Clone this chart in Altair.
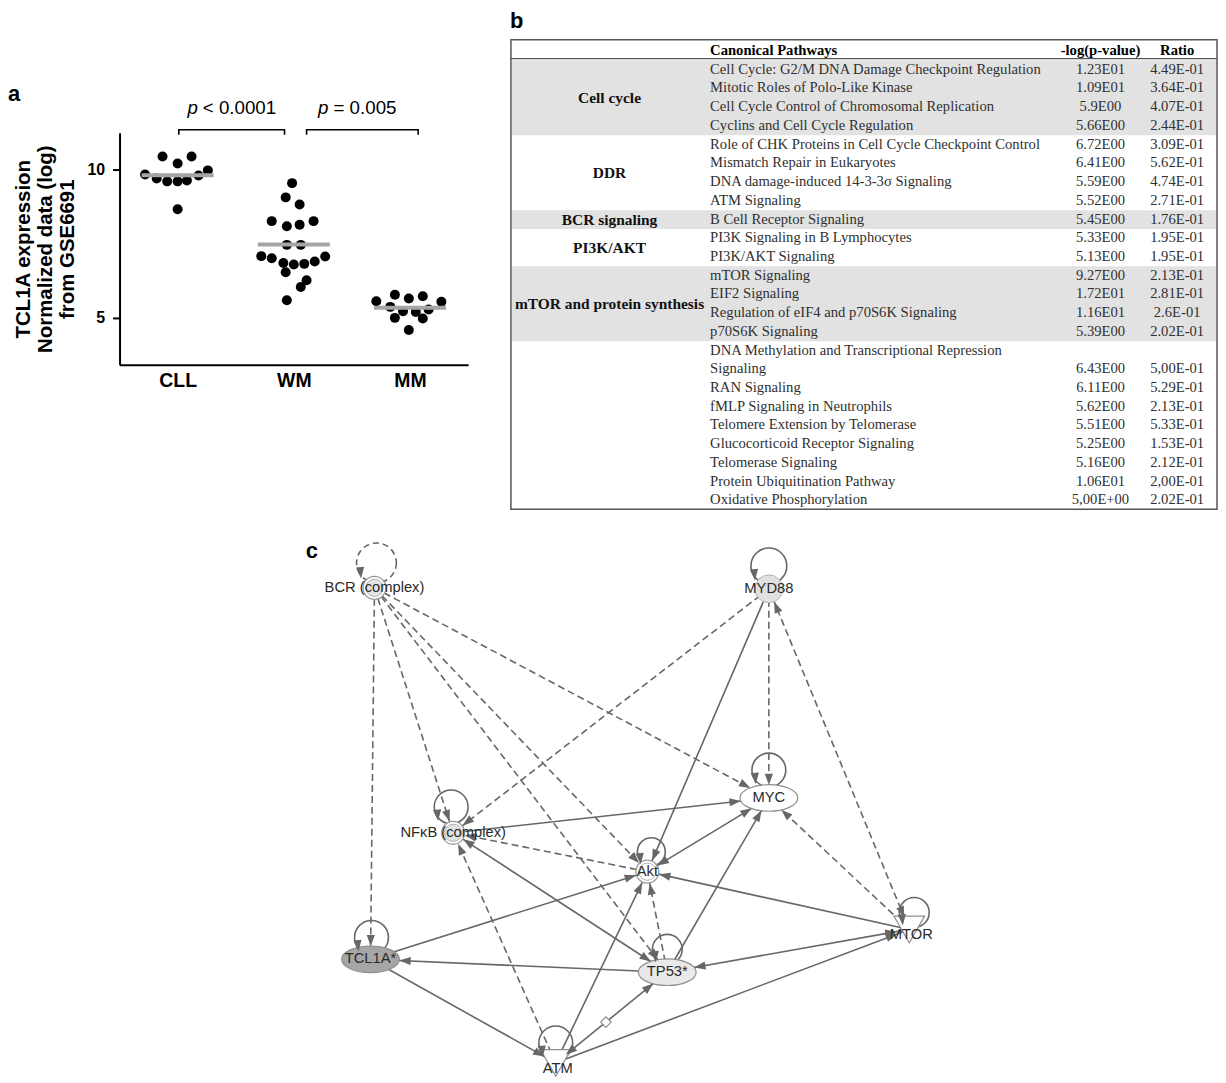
import json
import math
import altair as alt
import pandas as pd

SANS = "Liberation Sans"
SERIF = "Liberation Serif"

# ======================= DATA =======================
# ---- Panel a: TCL1A expression (normalized log data, GSE6691) ----
cats = ["CLL", "WM", "MM"]
cll_vals = [10.44, 10.44, 10.20, 9.83, 9.70, 9.60, 9.60, 9.63, 9.80, 9.97, 8.66]
cll_swarm = [-0.13, 0.12, 0.0, -0.28, -0.18, -0.09, 0.0, 0.08, 0.18, 0.26, 0.0]
wm_vals = [9.54, 9.06, 8.82, 8.26, 8.09, 8.14, 8.26, 7.46, 7.46, 7.08, 7.01,
           6.85, 6.80, 6.82, 6.90, 7.07, 6.54, 6.27, 6.04, 5.59]
wm_swarm = [-0.015, -0.07, 0.05, -0.19, -0.06, 0.05, 0.17, -0.06, 0.06, -0.28, -0.19,
            -0.09, 0.0, 0.09, 0.18, 0.27, -0.07, 0.11, 0.06, -0.06]
mm_vals = [5.56, 5.78, 5.65, 5.73, 5.54, 5.37, 5.22, 5.20, 5.28, 5.00, 4.98, 4.59]
mm_swarm = [-0.29, -0.13, -0.01, 0.11, 0.27, -0.17, -0.06, 0.05, 0.16, -0.13, 0.11, -0.01]
medians = [9.81, 7.47, 5.34]
y_ticks = [5, 10]
y_title = ["TCL1A expression", "Normalized data (log)", "from GSE6691"]
bracket_from = [0.51, 1.61]
bracket_to = [1.42, 2.57]
p_rest = ["< 0.0001", "= 0.005"]

# ---- Panel b: canonical pathways table ----
group_names = ["Cell cycle", "DDR", "BCR signaling", "PI3K/AKT", "mTOR and protein synthesis", ""]
group_sizes = [4, 4, 1, 2, 4, 8]
group_shaded = [True, False, True, False, True, False]
pathways = [
    "Cell Cycle: G2/M DNA Damage Checkpoint Regulation",
    "Mitotic Roles of Polo-Like Kinase",
    "Cell Cycle Control of Chromosomal Replication",
    "Cyclins and Cell Cycle Regulation",
    "Role of CHK Proteins in Cell Cycle Checkpoint Control",
    "Mismatch Repair in Eukaryotes",
    "DNA damage-induced 14-3-3\u03c3 Signaling",
    "ATM Signaling",
    "B Cell Receptor Signaling",
    "PI3K Signaling in B Lymphocytes",
    "PI3K/AKT Signaling",
    "mTOR Signaling",
    "EIF2 Signaling",
    "Regulation of eIF4 and p70S6K Signaling",
    "p70S6K Signaling",
    "DNA Methylation and Transcriptional Repression\nSignaling",
    "RAN Signaling",
    "fMLP Signaling in Neutrophils",
    "Telomere Extension by Telomerase",
    "Glucocorticoid Receptor Signaling",
    "Telomerase Signaling",
    "Protein Ubiquitination Pathway",
    "Oxidative Phosphorylation",
]
neglogp = ["1.23E01", "1.09E01", "5.9E00", "5.66E00", "6.72E00", "6.41E00", "5.59E00",
           "5.52E00", "5.45E00", "5.33E00", "5.13E00", "9.27E00", "1.72E01", "1.16E01",
           "5.39E00", "6.43E00", "6.11E00", "5.62E00", "5.51E00", "5.25E00", "5.16E00",
           "1.06E01", "5,00E+00"]
ratios = ["4.49E-01", "3.64E-01", "4.07E-01", "2.44E-01", "3.09E-01", "5.62E-01", "4.74E-01",
          "2.71E-01", "1.76E-01", "1.95E-01", "1.95E-01", "2.13E-01", "2.81E-01", "2.6E-01",
          "2.02E-01", "5,00E-01", "5.29E-01", "2.13E-01", "5.33E-01", "1.53E-01", "2.12E-01",
          "2,00E-01", "2.02E-01"]
headers = ["Canonical Pathways", "-log(p-value)", "Ratio"]

# ---- Panel c: IPA network (node layout + edges) ----
node_names = ["BCR (complex)", "MYD88", "MYC", "NF\u03baB (complex)", "Akt",
              "TCL1A*", "TP53*", "MTOR", "ATM"]
node_x = [376, 772, 772, 455, 650, 372, 670, 913, 558]
node_y = [587, 588, 798, 833, 872, 960, 973, 930, 1064]
node_kind = ["complex", "circle", "ellipse", "complex", "complex",
             "ellipse", "ellipse", "triangle", "triangle"]
node_fill = ["#e3e3e3", "#e0e0e0", "#ffffff", "#e3e3e3", "#ffffff",
             "#a6a6a6", "#e9e9e9", "#ffffff", "#ffffff"]
loop_dx = [2, 0, 0, -2, 4, 1, 0, 5, 0]
loop_dy = [-25, -23, -28, -26, -20, -22, -23, -17, -20]
loop_r = [20, 18, 17, 17, 14, 17, 15, 15, 17]
loop_dashed = [True, False, False, False, False, False, False, False, False]
edges = [
    ("BCR (complex)", "TCL1A*", "dashed", "end"),
    ("BCR (complex)", "NF\u03baB (complex)", "dashed", "end"),
    ("BCR (complex)", "Akt", "dashed", "end"),
    ("BCR (complex)", "TP53*", "dashed", "end"),
    ("BCR (complex)", "MYC", "dashed", "end"),
    ("MYD88", "NF\u03baB (complex)", "dashed", "end"),
    ("MYD88", "Akt", "solid", "end"),
    ("MYD88", "MYC", "dashed", "end"),
    ("MTOR", "MYD88", "dashed", "both"),
    ("NF\u03baB (complex)", "MYC", "solid", "end"),
    ("Akt", "MYC", "solid", "both"),
    ("TP53*", "MYC", "solid", "end"),
    ("MTOR", "MYC", "dashed", "end"),
    ("Akt", "NF\u03baB (complex)", "dashed", "end"),
    ("NF\u03baB (complex)", "TP53*", "solid", "both"),
    ("ATM", "NF\u03baB (complex)", "dashed", "end"),
    ("TCL1A*", "Akt", "solid", "end"),
    ("TP53*", "Akt", "dashed", "end"),
    ("ATM", "Akt", "solid", "end"),
    ("MTOR", "Akt", "solid", "end"),
    ("TP53*", "TCL1A*", "solid", "end"),
    ("MTOR", "TP53*", "solid", "both"),
    ("ATM", "TP53*", "solid", "both"),
    ("TCL1A*", "ATM", "solid", "end"),
    ("ATM", "MTOR", "solid", "end"),
]
marked_edge = ("ATM", "TP53*")  # edge with diamond marker

# ======================= PANEL A =======================
A_W, A_H = 500, 355
xs_a = alt.Scale(domain=[0, 3], range=[112, 462], nice=False, zero=False)
ys_a = alt.Scale(domain=[3.42, 11.24], range=[355, 122], nice=False, zero=False)

x_axis = alt.Axis(values=[0.5, 1.5, 2.5],
                  labelExpr=json.dumps(cats) + "[floor(datum.value)]",
                  ticks=False, grid=False, domainColor="black", domainWidth=2,
                  labelFont=SANS, labelFontSize=19.5, labelFontWeight="bold",
                  labelColor="black", labelPadding=7, title=None)
y_axis = alt.Axis(values=y_ticks, offset=-112, grid=False, domainColor="black",
                  domainWidth=2, tickColor="black", tickWidth=2, tickSize=7,
                  labelFont=SANS, labelFontSize=16, labelFontWeight="bold",
                  labelColor="black", labelPadding=8, title=y_title,
                  titleFont=SANS, titleFontSize=20.5, titleFontWeight="bold",
                  titleColor="black", titleLineHeight=22.5, titlePadding=9)

rows = []
for gi, (vals, sw) in enumerate([(cll_vals, cll_swarm), (wm_vals, wm_swarm), (mm_vals, mm_swarm)]):
    for v, o in zip(vals, sw):
        rows.append({"cat": cats[gi], "xu": gi + 0.5 + o, "v": v})
dots = pd.DataFrame(rows)
med = pd.DataFrame({"cat": cats,
                    "x0": [i + 0.5 - 0.31 for i in range(3)],
                    "x1": [i + 0.5 + 0.31 for i in range(3)],
                    "v": medians})
br_rows = []
for b, (x0, x1) in enumerate(zip(bracket_from, bracket_to)):
    for k, (xx, yy) in enumerate([(x0, 11.17), (x0, 11.34), (x1, 11.34), (x1, 11.17)]):
        br_rows.append({"id": b, "k": k, "x": xx, "y": yy})
br = pd.DataFrame(br_rows)
pdf = pd.DataFrame({"mid": [(a + b) / 2 for a, b in zip(bracket_from, bracket_to)],
                    "y": [12.07, 12.07], "p": ["p", "p"], "rest": p_rest})

dots_l = alt.Chart(dots).mark_circle(size=100, color="black", opacity=1).encode(
    x=alt.X("xu:Q", scale=xs_a, axis=x_axis),
    y=alt.Y("v:Q", scale=ys_a, axis=y_axis))
med_l = alt.Chart(med).mark_rule(color="#a5a5a5", strokeWidth=4).encode(
    x=alt.X("x0:Q", scale=xs_a, axis=x_axis), x2="x1:Q",
    y=alt.Y("v:Q", scale=ys_a, axis=y_axis))
br_l = alt.Chart(br).mark_line(color="black", strokeWidth=1.6).encode(
    x=alt.X("x:Q", scale=xs_a, axis=x_axis),
    y=alt.Y("y:Q", scale=ys_a, axis=y_axis),
    detail="id:N", order="k:Q")
p1_l = alt.Chart(pdf).mark_text(font=SANS, fontSize=18.8, fontStyle="italic", align="right",
                                baseline="middle", dx=-34, color="black").encode(
    x=alt.X("mid:Q", scale=xs_a, axis=x_axis),
    y=alt.Y("y:Q", scale=ys_a, axis=y_axis), text="p:N")
p2_l = alt.Chart(pdf).mark_text(font=SANS, fontSize=18.8, align="left",
                                baseline="middle", dx=-29, color="black").encode(
    x=alt.X("mid:Q", scale=xs_a, axis=x_axis),
    y=alt.Y("y:Q", scale=ys_a, axis=y_axis), text="rest:N")
a_lbl = alt.Chart(pd.DataFrame({"t": ["a"]})).mark_text(
    align="left", baseline="alphabetic", font=SANS, fontSize=22, fontWeight="bold",
    color="black").encode(x=alt.value(0), y=alt.value(90), text="t:N")

A = alt.layer(dots_l, med_l, br_l, p1_l, p2_l, a_lbl).properties(width=A_W, height=A_H)

# ======================= PANEL B =======================
B_W, B_H = 715, 502
line_rows, val_rows, grp_rows = [], [], []
line = 1
pi = 0
for gname, gsize, gshade in zip(group_names, group_sizes, group_shaded):
    g0 = line
    for _ in range(gsize):
        parts = pathways[pi].split("\n")
        for part in parts:
            line_rows.append({"row": line, "text": part})
            line += 1
        val_rows.append({"row": line - 1, "p": neglogp[pi], "r": ratios[pi]})
        pi += 1
    grp_rows.append({"name": gname, "mid": (g0 + line - 1) / 2, "r0": g0 - 0.5,
                     "r1": line - 0.5, "shaded": gshade})
n_lines = line - 1
lines_df = pd.DataFrame(line_rows)
vals_df = pd.DataFrame(val_rows)
grp_df = pd.DataFrame(grp_rows)
bands_df = grp_df[grp_df["shaded"]]

ys_b = alt.Scale(domain=[0, n_lines], range=[40, 40 + 18.8 * n_lines], nice=False, zero=False)
TXT = "#303030"
FS = 14.7

band_l = alt.Chart(bands_df).mark_rect(color="#e2e2e2").encode(
    x=alt.value(6), x2=alt.value(713),
    y=alt.Y("r0:Q", scale=ys_b, axis=None), y2="r1:Q")
frame_l = alt.Chart(pd.DataFrame({"r0": [-0.6], "r1": [n_lines + 0.47]})).mark_rect(
    fillOpacity=0, stroke="#555555", strokeWidth=1.5).encode(
    x=alt.value(5), x2=alt.value(714),
    y=alt.Y("r0:Q", scale=ys_b, axis=None), y2="r1:Q")
hrule_l = alt.Chart(pd.DataFrame({"r": [0.4]})).mark_rule(color="#555555", strokeWidth=1.2).encode(
    x=alt.value(5), x2=alt.value(714), y=alt.Y("r:Q", scale=ys_b, axis=None))
hdr = pd.DataFrame({"row": [0, 0, 0], "t": headers})
hdr1 = alt.Chart(hdr.iloc[[0]]).mark_text(font=SERIF, fontSize=FS, fontWeight="bold",
                                        align="left", baseline="middle", color="black").encode(
    x=alt.value(205), y=alt.Y("row:Q", scale=ys_b, axis=None), text="t:N")
hdr2 = alt.Chart(hdr.iloc[[1]]).mark_text(font=SERIF, fontSize=FS, fontWeight="bold",
                                        align="center", baseline="middle", color="black").encode(
    x=alt.value(597), y=alt.Y("row:Q", scale=ys_b, axis=None), text="t:N")
hdr3 = alt.Chart(hdr.iloc[[2]]).mark_text(font=SERIF, fontSize=FS, fontWeight="bold",
                                        align="center", baseline="middle", color="black").encode(
    x=alt.value(674), y=alt.Y("row:Q", scale=ys_b, axis=None), text="t:N")
path_l = alt.Chart(lines_df).mark_text(font=SERIF, fontSize=FS, align="left",
                                       baseline="middle", color=TXT).encode(
    x=alt.value(205), y=alt.Y("row:Q", scale=ys_b, axis=None), text="text:N")
pval_l = alt.Chart(vals_df).mark_text(font=SERIF, fontSize=FS, align="center",
                                      baseline="middle", color=TXT).encode(
    x=alt.value(597), y=alt.Y("row:Q", scale=ys_b, axis=None), text="p:N")
ratio_l = alt.Chart(vals_df).mark_text(font=SERIF, fontSize=FS, align="center",
                                       baseline="middle", color=TXT).encode(
    x=alt.value(674), y=alt.Y("row:Q", scale=ys_b, axis=None), text="r:N")
grp_l = alt.Chart(grp_df).mark_text(font=SERIF, fontSize=15.5, fontWeight="bold", align="center",
                                    baseline="middle", color="#111111").encode(
    x=alt.value(104), y=alt.Y("mid:Q", scale=ys_b, axis=None), text="name:N")
b_lbl = alt.Chart(pd.DataFrame({"t": ["b"]})).mark_text(
    align="left", baseline="alphabetic", font=SANS, fontSize=22, fontWeight="bold",
    color="black").encode(x=alt.value(4), y=alt.value(17), text="t:N")

B = alt.layer(band_l, frame_l, hrule_l, hdr1, hdr2, hdr3, path_l, pval_l, ratio_l,
              grp_l, b_lbl).properties(width=B_W, height=B_H)

# ======================= PANEL C =======================
C_W, C_H = 1215, 561
C_X0, C_Y0 = 8, 510
xs_c = alt.Scale(domain=[C_X0, C_X0 + C_W], nice=False, zero=False)
ys_c = alt.Scale(domain=[C_Y0, C_Y0 + C_H], reverse=True, nice=False, zero=False)
semi = {"complex": (12, 12), "circle": (14, 14), "ellipse": (29, 13), "triangle": (13, 13)}
EDGE = "#676767"
ARR_SIZE = 130
ARR_HALF = math.sqrt(ARR_SIZE) / 2


def bdist(i, ux, uy):
    a, b = semi[node_kind[i]]
    return 1.0 / math.sqrt((ux / a) ** 2 + (uy / b) ** 2)


def heading(ux, uy):
    return (math.degrees(math.atan2(ux, -uy)) + 360) % 360


idx = {n: i for i, n in enumerate(node_names)}
e_rows, arr_rows = [], []
for s, d, style, ends in edges:
    i, j = idx[s], idx[d]
    xs_, ys_, xd, yd = node_x[i], node_y[i], node_x[j], node_y[j]
    L = math.hypot(xd - xs_, yd - ys_)
    ux, uy = (xd - xs_) / L, (yd - ys_) / L
    e_rows.append({"x": xs_, "y": ys_, "x2": xd, "y2": yd, "style": style})
    t = bdist(j, ux, uy) + ARR_HALF
    arr_rows.append({"x": xd - ux * t, "y": yd - uy * t, "ang": heading(ux, uy)})
    if ends == "both":
        t = bdist(i, ux, uy) + ARR_HALF
        arr_rows.append({"x": xs_ + ux * t, "y": ys_ + uy * t, "ang": heading(-ux, -uy)})
edf = pd.DataFrame(e_rows)

loop_rows = []
for k in range(len(node_names)):
    cx, cy, r = node_x[k] + loop_dx[k], node_y[k] + loop_dy[k], loop_r[k]
    loop_rows.append({"x": cx, "y": cy, "size": (2 * r) ** 2, "dashed": loop_dashed[k]})
    arr_rows.append({"x": cx - 0.8 * r, "y": cy + 0.5 * r, "ang": 175.0})
ldf = pd.DataFrame(loop_rows)
adf = pd.DataFrame(arr_rows)

ndf = pd.DataFrame({"name": node_names, "x": node_x, "y": node_y, "kind": node_kind,
                    "fill": node_fill})
ndf["ly"] = [y + (6 if k == "triangle" else 0) for y, k in zip(node_y, node_kind)]
ndf["lx"] = [x + (2 if k == "triangle" else 0) for x, k in zip(node_x, node_kind)]

ma, mb = idx[marked_edge[0]], idx[marked_edge[1]]
ddf = pd.DataFrame({"x": [node_x[ma] + 0.45 * (node_x[mb] - node_x[ma])],
                    "y": [node_y[ma] + 0.45 * (node_y[mb] - node_y[ma])]})


def XY(fx="x", fy="y"):
    return dict(x=alt.X(f"{fx}:Q", scale=xs_c, axis=None),
                y=alt.Y(f"{fy}:Q", scale=ys_c, axis=None))


dash_l = alt.Chart(edf[edf["style"] == "dashed"]).mark_rule(
    color=EDGE, strokeWidth=1.6, strokeDash=[7, 4]).encode(**XY(), x2="x2:Q", y2="y2:Q")
solid_l = alt.Chart(edf[edf["style"] == "solid"]).mark_rule(
    color=EDGE, strokeWidth=1.6).encode(**XY(), x2="x2:Q", y2="y2:Q")
loop_s = alt.Chart(ldf[~ldf["dashed"]]).mark_point(
    shape="circle", filled=False, color=EDGE, strokeWidth=1.6, opacity=1).encode(
    **XY(), size=alt.Size("size:Q", scale=None))
loop_d = alt.Chart(ldf[ldf["dashed"]]).mark_point(
    shape="circle", filled=False, color=EDGE, strokeWidth=1.6, strokeDash=[6, 4], opacity=1).encode(
    **XY(), size=alt.Size("size:Q", scale=None))
cpx = ndf[ndf["kind"] == "complex"]
ring_l = alt.Chart(cpx).mark_point(shape="circle", filled=True, fill="white", stroke="#9a9a9a",
                                   strokeWidth=1.3, size=529, opacity=1).encode(**XY())
inner_l = alt.Chart(cpx).mark_point(shape="circle", filled=True, stroke="#b0b0b0",
                                    strokeWidth=1.0, size=300, opacity=1).encode(
    **XY(), fill=alt.Fill("fill:N", scale=None))
circ_l = alt.Chart(ndf[ndf["kind"] == "circle"]).mark_point(
    shape="circle", filled=True, stroke="#b5b5b5", strokeWidth=1.0, size=784, opacity=1).encode(
    **XY(), fill=alt.Fill("fill:N", scale=None))
ell_l = alt.Chart(ndf[ndf["kind"] == "ellipse"]).mark_point(
    shape="M-1,0A1,0.46,0,1,0,1,0A1,0.46,0,1,0,-1,0Z", filled=True, stroke="#8f8f8f",
    strokeWidth=1.2, size=3364, opacity=1).encode(**XY(), fill=alt.Fill("fill:N", scale=None))
tri_l = alt.Chart(ndf[ndf["kind"] == "triangle"]).mark_point(
    shape="triangle-down", filled=True, stroke="#8f8f8f", strokeWidth=1.2, size=950,
    opacity=1).encode(**XY(), fill=alt.Fill("fill:N", scale=None))
dia_l = alt.Chart(ddf).mark_point(shape="diamond", filled=True, fill="white", stroke="#8f8f8f",
                                  strokeWidth=1.2, size=110, opacity=1).encode(**XY())
arr_l = alt.Chart(adf).mark_point(shape="M0,-1L0.72,1L-0.72,1Z", filled=True, color=EDGE,
                                  size=ARR_SIZE, opacity=1).encode(
    **XY(), angle=alt.Angle("ang:Q", scale=None))
lab_l = alt.Chart(ndf).mark_text(font=SANS, fontSize=14.8, color="#2a2a2a",
                                 baseline="middle").encode(**XY("lx", "ly"), text="name:N")
c_lbl = alt.Chart(pd.DataFrame({"t": ["c"], "x": [307], "y": [557]})).mark_text(
    align="left", baseline="alphabetic", font=SANS, fontSize=22, fontWeight="bold",
    color="black").encode(**XY(), text="t:N")

C = alt.layer(dash_l, solid_l, loop_s, loop_d, ring_l, inner_l, circ_l, ell_l, tri_l,
              dia_l, arr_l, lab_l, c_lbl).properties(width=C_W, height=C_H)

chart = alt.vconcat(alt.hconcat(A, B, spacing=0), C, spacing=0).properties(
    padding=0, background="white").configure_view(stroke=None)

chart.save("out.html", embed_options={"renderer": "svg", "actions": False})
